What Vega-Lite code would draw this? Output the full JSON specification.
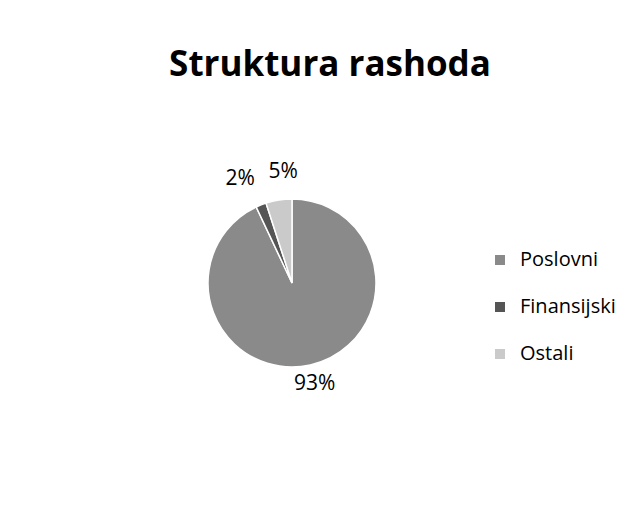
{
  "$schema": "https://vega.github.io/schema/vega-lite/v6.json",
  "autosize": {"type": "none"},
  "width": 320,
  "height": 320,
  "padding": {"left": 132, "top": 123, "right": 192, "bottom": 72},
  "background": "white",
  "title": {
    "text": "Struktura rashoda",
    "font": "Open Sans",
    "fontSize": 35,
    "fontWeight": "bold",
    "color": "#000000",
    "anchor": "middle",
    "dx": 38,
    "offset": 40
  },
  "data": {
    "values": [
      {"kategorija": "Poslovni", "udio": 93, "red": 1, "oznaka": "93%"},
      {"kategorija": "Finansijski", "udio": 2, "red": 2, "oznaka": "2%"},
      {"kategorija": "Ostali", "udio": 5, "red": 3, "oznaka": "5%"}
    ]
  },
  "encoding": {
    "theta": {"field": "udio", "type": "quantitative", "stack": true},
    "order": {"field": "red", "type": "quantitative"}
  },
  "layer": [
    {
      "mark": {"type": "arc", "outerRadius": 84, "stroke": "white", "strokeWidth": 1.5},
      "encoding": {
        "color": {
          "field": "kategorija",
          "type": "nominal",
          "sort": ["Poslovni", "Finansijski", "Ostali"],
          "scale": {"domain": ["Poslovni", "Finansijski", "Ostali"], "range": ["#8a8a8a", "#555555", "#cacaca"]},
          "legend": {
            "title": null,
            "orient": "none",
            "legendX": 358,
            "legendY": 127,
            "symbolType": "square",
            "symbolSize": 100,
            "symbolStrokeWidth": 0,
            "labelFont": "Open Sans",
            "labelFontSize": 20,
            "labelColor": "#000000",
            "labelOffset": 10,
            "rowPadding": 27
          }
        }
      }
    },
    {
      "mark": {"type": "text", "radius": 104, "font": "Open Sans", "fontSize": 21, "color": "#000000"},
      "encoding": {
        "text": {"condition": {"test": "datum.kategorija === 'Poslovni'", "field": "oznaka"}, "value": ""}
      }
    },
    {
      "mark": {"type": "text", "radius": 112, "align": "right", "dx": 4, "font": "Open Sans", "fontSize": 21, "color": "#000000"},
      "encoding": {
        "text": {"condition": {"test": "datum.kategorija === 'Finansijski'", "field": "oznaka"}, "value": ""}
      }
    },
    {
      "mark": {"type": "text", "radius": 112, "align": "left", "dx": -6, "font": "Open Sans", "fontSize": 21, "color": "#000000"},
      "encoding": {
        "text": {"condition": {"test": "datum.kategorija === 'Ostali'", "field": "oznaka"}, "value": ""}
      }
    }
  ],
  "config": {"view": {"stroke": null}}
}
